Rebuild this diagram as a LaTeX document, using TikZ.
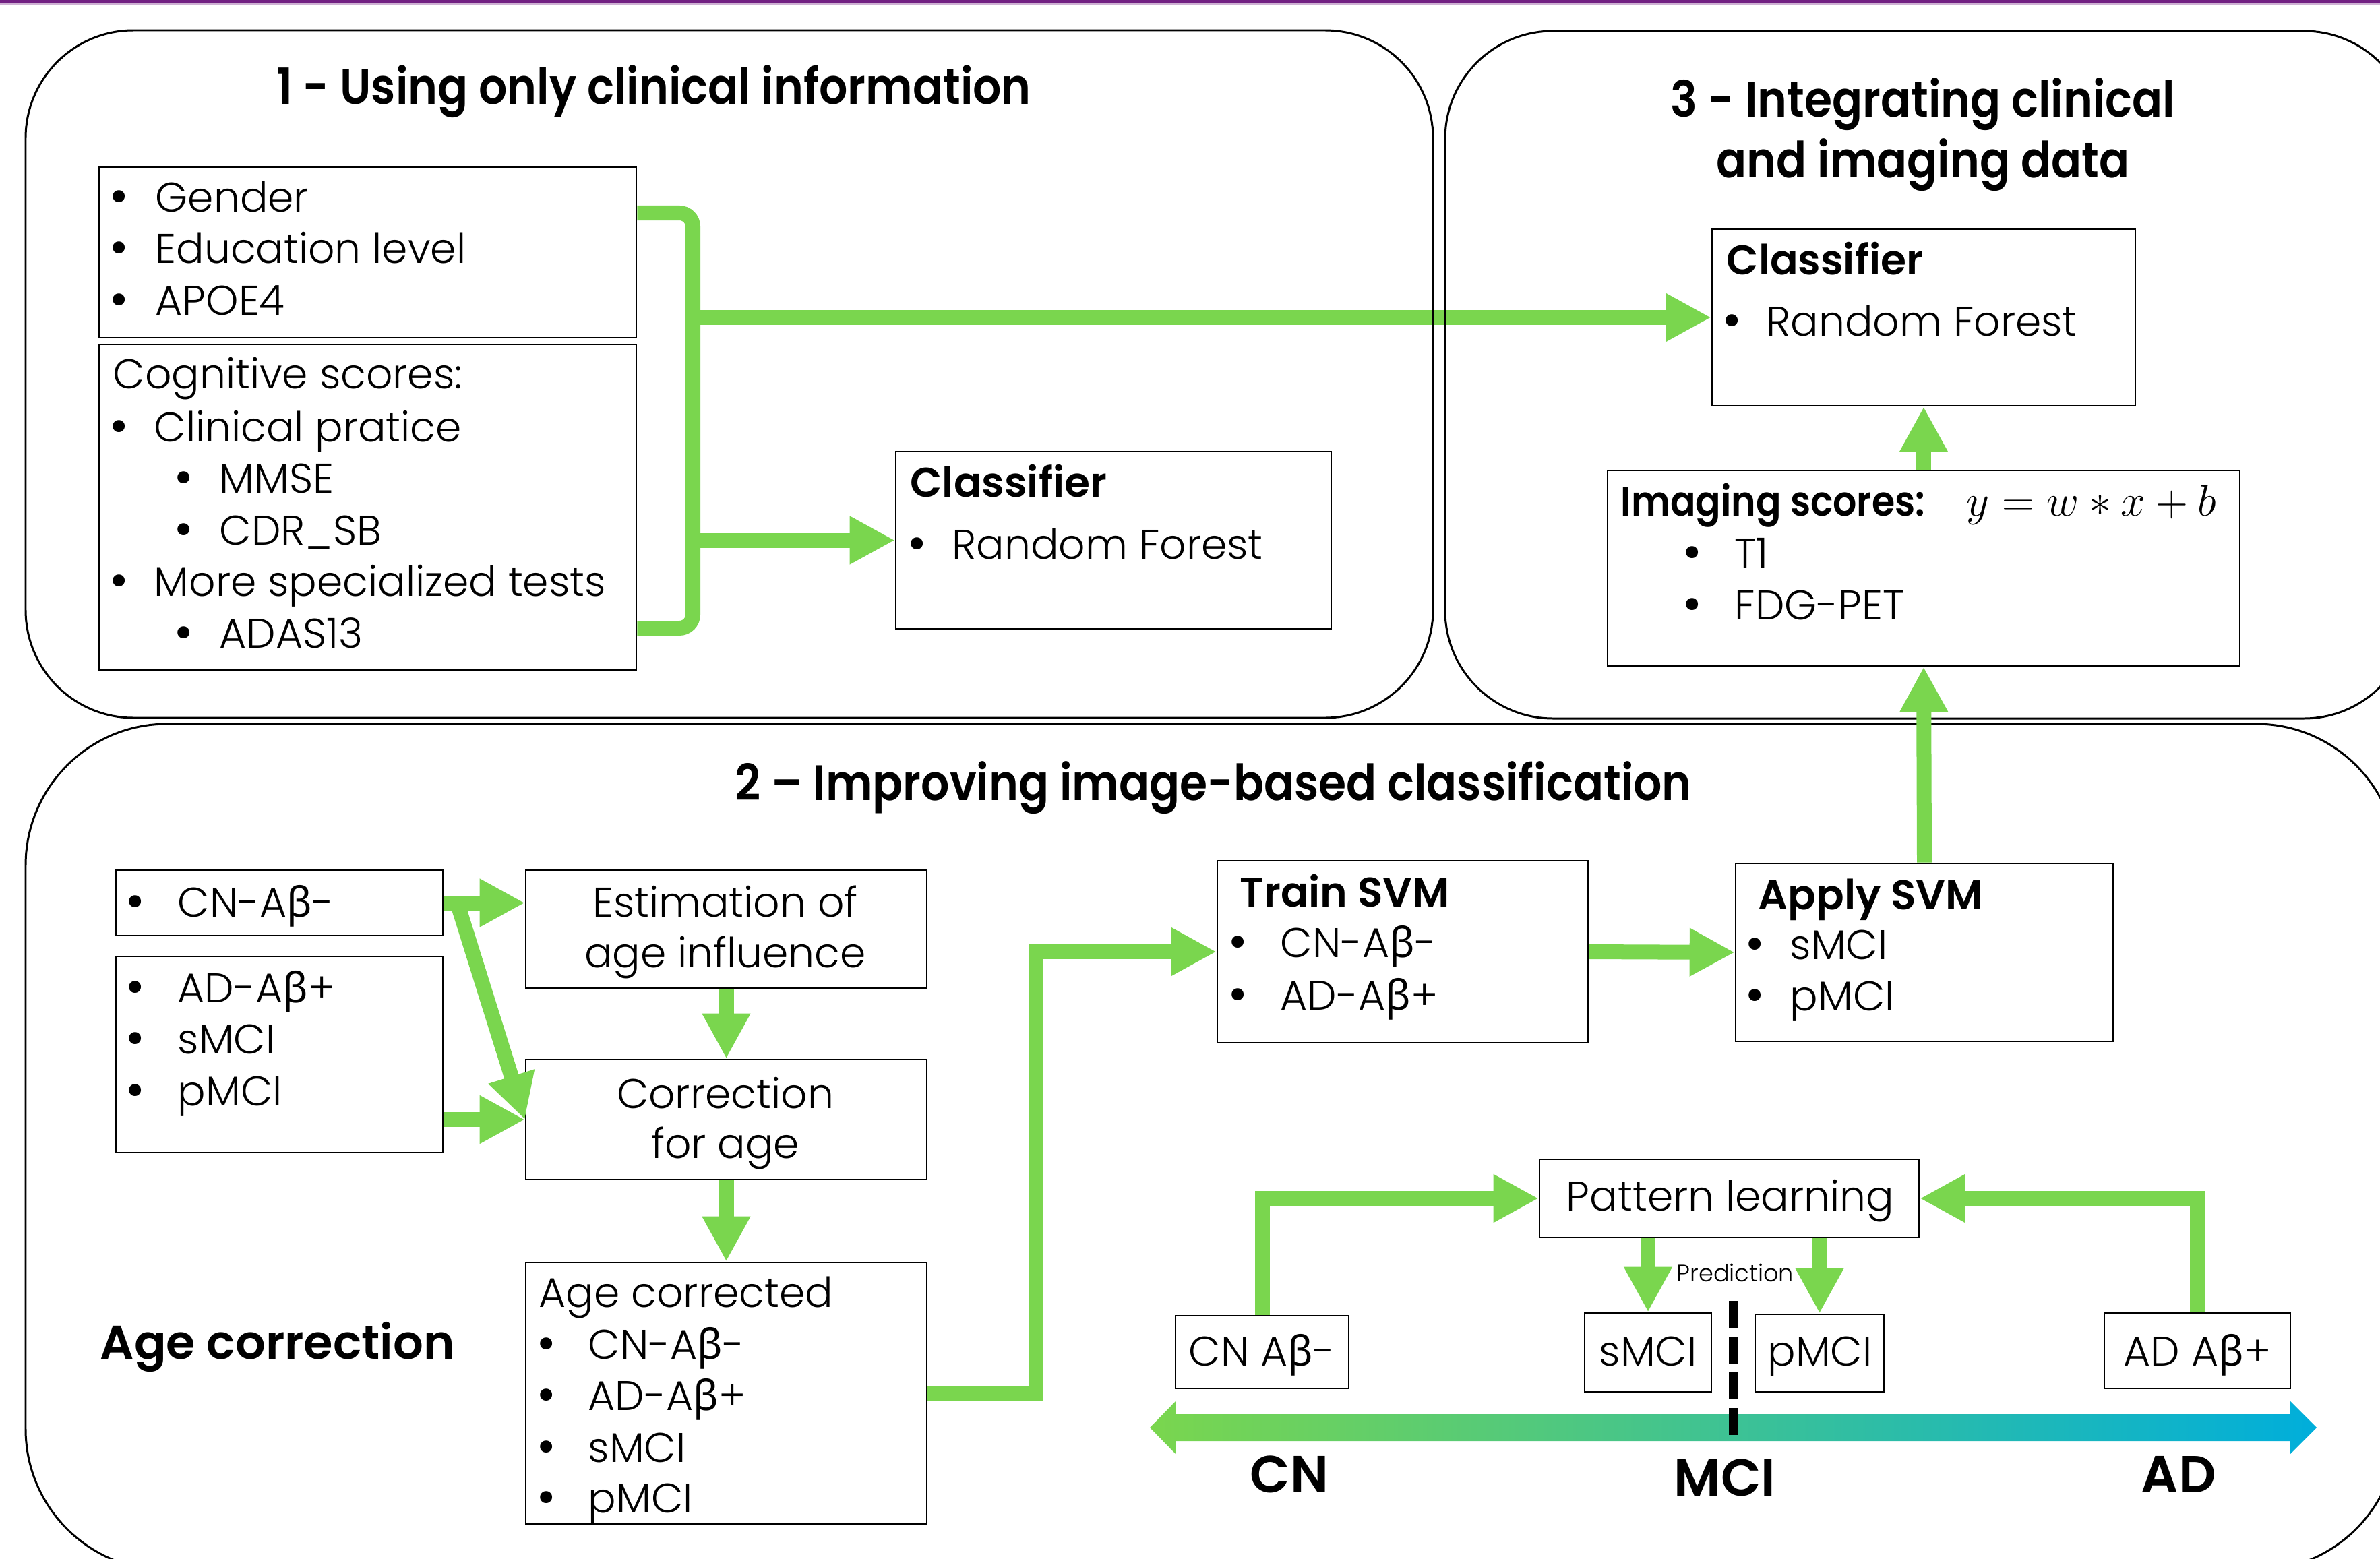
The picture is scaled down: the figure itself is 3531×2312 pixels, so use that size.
\documentclass[tikz,border=0pt]{standalone}
\usepackage{fontspec}
\setmainfont{Poppins}[UprightFont={* Light},BoldFont={* SemiBold}]
\newfontfamily\ttlf{Poppins}[UprightFont={* SemiBold},FakeStretch=0.9]
\newfontfamily\grk{Noto Sans}
\newfontfamily\dvs{DejaVu Sans}
\usetikzlibrary{arrows.meta,fit}
\definecolor{grn}{RGB}{122,214,78}
\definecolor{blu}{RGB}{0,174,219}
\definecolor{purp}{RGB}{114,32,130}
\newcommand{\bt}{\fontsize{17.5}{21}\selectfont}
\newcommand{\ttl}{\fontsize{21}{25}\selectfont\ttlf}
\newcommand{\B}{{\grk β}}
\newcommand{\bul}{{\dvs •}}
\tikzset{
  box/.style={draw=black, line width=0.75pt, inner sep=0pt, rectangle},
  panel/.style={draw=black, line width=0.85pt, inner sep=0pt, rectangle},
  txt/.style={inner sep=0pt, anchor=base west, font=\bt},
  ctxt/.style={inner sep=0pt, anchor=base, font=\bt},
  btxt/.style={inner sep=0pt, anchor=base west, font=\bt\bfseries},
  bultxt/.style={inner sep=0pt, anchor=base, font=\bt},
  conn/.style={draw=grn, line width=0.22cm, line join=miter, -{Triangle[length=0.67cm,width=0.67cm]}},
  grnline/.style={draw=grn, line width=0.22cm},
}
\begin{document}
\begin{tikzpicture}[x=0.01cm,y=-0.01cm]
\useasboundingbox (0,0) rectangle (3531,2312);
\clip (0,0) rectangle (3531,2312);
% top purple rule
\fill[purp] (0,0) rectangle (3531,5);
\fill[purp!35] (0,5) rectangle (3531,7);

% ---------- boxes ----------
\node[box, fit={(147,248) (944,501)}] (gbox) {};
\node[box, fit={(147,511) (944,994)}] (cbox) {};
\node[box, fit={(1329,670) (1975,933)}] (cls1) {};
\node[box, fit={(2540,340) (3168,602)}] (cls3) {};
\node[box, fit={(2385,698) (3323,988)}] (img) {};
\node[box, fit={(172,1291) (657,1388)}] (cnb) {};
\node[box, fit={(172,1419) (657,1710)}] (adb) {};
\node[box, fit={(780,1291) (1375,1466)}] (est) {};
\node[box, fit={(780,1572) (1375,1750)}] (cor) {};
\node[box, fit={(780,1873) (1375,2261)}] (agec) {};
\node[box, fit={(1806,1277) (2356,1547)}] (train) {};
\node[box, fit={(2575,1281) (3135,1545)}] (apply) {};
\node[box, fit={(2284,1720) (2847,1836)}] (pat) {};
\node[box, fit={(1744,1952) (2001,2060)}] (cnab) {};
\node[box, fit={(2351,1948) (2539,2065)}] (smci) {};
\node[box, fit={(2604,1950) (2795,2065)}] (pmci) {};
\node[box, fit={(3122,1948) (3398,2060)}] (adab) {};

% bracket and its long branch (under the panel borders)
\draw[grnline, rounded corners=0.2cm] (gbox.north east |- 0,316) -- (1028,316) -- (1028,932) -- (cbox.north east |- 0,932);
\draw[conn] (1028,0 |- cls3.west) -- (cls3.west);

% ---------- panels ----------
\node[panel, rounded corners=1.6cm, fit={(38,45) (2126,1065)}] (p1) {};
\node[panel, rounded corners=1.6cm, fit={(2144,46) (3578,1066)}] (p3) {};
\node[panel, rounded corners=2.1cm, fit={(38,1074) (3557,2330)}] (p2) {};

% ---------- connectors ----------
\draw[conn] (1028,0 |- cls1.west) -- (cls1.west);
\draw[conn] (img.north) -- (cls3.south);
\draw[conn] (apply.north) -- (img.south);
\draw[conn] (train.east) -- (apply.west);
\draw[conn] (agec.east) -- (1537,0 |- agec.east) -- (1537,0 |- train.west) -- (train.west);
\draw[conn] (cnb.east) -- (est.west |- cnb.east);
\draw[conn] ([xshift=0.2cm]cnb.east) -- (cor.west);
\draw[conn] (adb.east |- cor.west) -- (cor.west);
\draw[conn] (est.south) -- (cor.north);
\draw[conn] (cor.south) -- (agec.north);
\draw[conn] (cnab.north) |- (pat.west);
\draw[conn] (adab.north) |- (pat.east);
\draw[conn] (smci.north |- pat.south) -- (smci.north);
\draw[conn] (pmci.north |- pat.south) -- (pmci.north);

% gradient double arrow
\coordinate (axl) at (1706,2118);
\coordinate (axr) at (3437,2118);
\shade[left color=grn, right color=blu] (axl) -- (1744,2079) -- (1744,2098) -- (3398,2098) -- (3398,2079) -- (axr) -- (3398,2157) -- (3398,2138) -- (1744,2138) -- (1744,2157) -- cycle;
\coordinate (dtop) at (2571,1930);
\coordinate (dbot) at (2571,2130);
\draw[line width=0.13cm, dash pattern=on 0.4cm off 0.13cm] (dtop) -- (dbot);

% ---------- panel 1 texts ----------
\node[inner sep=0pt, anchor=base, font=\ttl] (t1) at (970,155) {1 - Using only clinical information};
\node[bultxt] (gb1) at (177,314) {\bul}; \node[txt] (g1) at (230,314) {Gender};
\node[bultxt] (gb2) at (177,390) {\bul}; \node[txt] (g2) at (230,390) {Education level};
\node[bultxt] (gb3) at (177,467) {\bul}; \node[txt] (g3) at (230,467) {APOE4};
\node[txt] (c0) at (167,576) {Cognitive scores:};
\node[bultxt] (cb1) at (177,655) {\bul}; \node[txt] (c1) at (228,655) {Clinical pratice};
\node[bultxt] (cb2) at (273,731) {\bul}; \node[txt] (c2) at (325,731) {MMSE};
\node[bultxt] (cb3) at (273,808) {\bul}; \node[txt] (c3) at (325,808) {CDR\_SB};
\node[bultxt] (cb4) at (177,884) {\bul}; \node[txt] (c4) at (228,884) {More specialized tests};
\node[bultxt] (cb5) at (273,961) {\bul}; \node[txt] (c5) at (325,961) {ADAS13};
\node[btxt] (k1) at (1350,737) {Classifier};
\node[bultxt] (k1b) at (1361,829) {\bul}; \node[txt] (k1r) at (1412,829) {Random Forest};

% ---------- panel 3 texts ----------
\node[inner sep=0pt, anchor=base, font=\ttl] (t3a) at (2853,174) {3 - Integrating clinical};
\node[inner sep=0pt, anchor=base, font=\ttl] (t3b) at (2853,263) {and imaging data};
\node[btxt] (k3) at (2561,407) {Classifier};
\node[bultxt] (k3b) at (2570,498) {\bul}; \node[txt] (k3r) at (2620,498) {Random Forest};
\node[inner sep=0pt, anchor=base west, font=\fontsize{17.5}{21}\selectfont\ttlf] (is) at (2404,765) {Imaging scores:};
\node[inner sep=0pt, anchor=base west, font=\fontsize{18}{22}\selectfont] (eq) at (2917,765) {\scalebox{1.09}{$y = w * x + b$}};
\node[bultxt] (ib1) at (2511,842) {\bul}; \node[txt] (i1) at (2573,842) {T1};
\node[bultxt] (ib2) at (2511,919) {\bul}; \node[txt] (i2) at (2573,919) {FDG-PET};

% ---------- panel 2 texts ----------
\node[inner sep=0pt, anchor=base, font=\ttl] (t2) at (1800,1187) {2 – Improving image-based classification};
\node[bultxt] (nb1) at (201,1360) {\bul}; \node[txt] (n1) at (263,1360) {CN-A\B-};
\node[bultxt] (ab1) at (201,1487) {\bul}; \node[txt] (a1) at (263,1487) {AD-A\B+};
\node[bultxt] (ab2) at (201,1563) {\bul}; \node[txt] (a2) at (263,1563) {sMCI};
\node[bultxt] (ab3) at (201,1640) {\bul}; \node[txt] (a3) at (263,1640) {pMCI};
\node[ctxt] (e1) at (1076,1360) {Estimation of};
\node[ctxt] (e2) at (1076,1435) {age influence};
\node[ctxt] (r1) at (1076,1644) {Correction};
\node[ctxt] (r2) at (1076,1718) {for age};
\node[txt] (q0) at (799,1939) {Age corrected};
\node[bultxt] (qb1) at (811,2016) {\bul}; \node[txt] (q1) at (872,2016) {CN-A\B-};
\node[bultxt] (qb2) at (811,2092) {\bul}; \node[txt] (q2) at (872,2092) {AD-A\B+};
\node[bultxt] (qb3) at (811,2169) {\bul}; \node[txt] (q3) at (872,2169) {sMCI};
\node[bultxt] (qb4) at (811,2244) {\bul}; \node[txt] (q4) at (872,2244) {pMCI};
\node[inner sep=0pt, anchor=base west, font=\fontsize{20}{24}\selectfont\bfseries] (ac) at (148,2016) {Age correction};
\node[btxt] (ts) at (1839,1345) {Train SVM};
\node[bultxt] (tb1) at (1837,1420) {\bul}; \node[txt] (ts1) at (1899,1420) {CN-A\B-};
\node[bultxt] (tb2) at (1837,1498) {\bul}; \node[txt] (ts2) at (1899,1498) {AD-A\B+};
\node[btxt] (as) at (2608,1349) {Apply SVM};
\node[bultxt] (sb1) at (2604,1423) {\bul}; \node[txt] (as1) at (2655,1423) {sMCI};
\node[bultxt] (sb2) at (2604,1499) {\bul}; \node[txt] (as2) at (2655,1499) {pMCI};
\node[ctxt] (pl) at (2567,1796) {Pattern learning};
\node[ctxt] (x1) at (1872,2026) {CN A\B-};
\node[ctxt] (x2) at (2445,2026) {sMCI};
\node[ctxt] (x3) at (2700,2026) {pMCI};
\node[ctxt] (x4) at (3260,2026) {AD A\B+};
\node[inner sep=0pt, anchor=base west, font=\fontsize{10}{12}\selectfont] (pr) at (2487,1901) {Prediction};
\node[inner sep=0pt, anchor=base, font=\fontsize{22}{26}\selectfont\bfseries] (lcn) at (1913,2214) {CN};
\node[inner sep=0pt, anchor=base, font=\fontsize{22}{26}\selectfont\bfseries] (lmci) at (2559,2219) {MCI};
\node[inner sep=0pt, anchor=base, font=\fontsize{22}{26}\selectfont\bfseries] (lad) at (3232,2214) {AD};
\end{tikzpicture}
\end{document}
